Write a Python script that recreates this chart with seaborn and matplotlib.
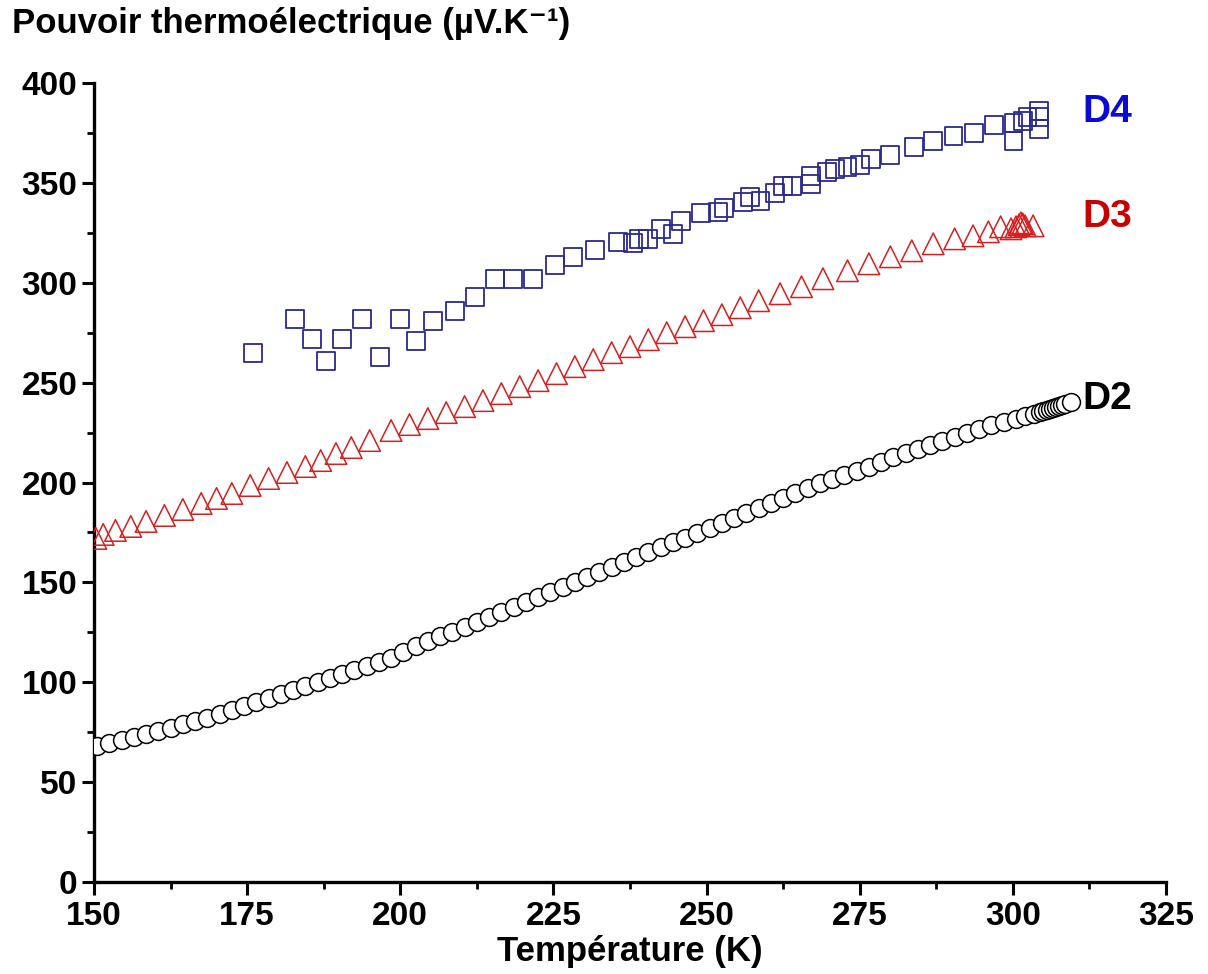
import matplotlib
matplotlib.use("Agg")
import matplotlib.pyplot as plt
import seaborn as sns
from matplotlib.ticker import MultipleLocator

# D2 - circles (black)
d2_temp = [150.5, 152.5, 154.5, 156.5, 158.5, 160.5, 162.5, 164.5, 166.5, 168.5,
           170.5, 172.5, 174.5, 176.5, 178.5, 180.5, 182.5, 184.5, 186.5, 188.5,
           190.5, 192.5, 194.5, 196.5, 198.5, 200.5, 202.5, 204.5, 206.5, 208.5,
           210.5, 212.5, 214.5, 216.5, 218.5, 220.5, 222.5, 224.5, 226.5, 228.5,
           230.5, 232.5, 234.5, 236.5, 238.5, 240.5, 242.5, 244.5, 246.5, 248.5,
           250.5, 252.5, 254.5, 256.5, 258.5, 260.5, 262.5, 264.5, 266.5, 268.5,
           270.5, 272.5, 274.5, 276.5, 278.5, 280.5, 282.5, 284.5, 286.5, 288.5,
           290.5, 292.5, 294.5, 296.5, 298.5, 300.5, 302.0, 303.5, 304.5, 305.0,
           305.5, 306.0, 306.5, 307.0, 307.5, 308.0, 308.5, 309.5]
d2_seebeck = [68, 69.5, 71, 72.5, 74, 75.5, 77, 79, 80.5, 82,
              84, 86, 88, 90, 92, 94, 96, 98, 100, 102,
              104, 106, 108, 110, 112, 115, 118, 120.5, 123, 125,
              127.5, 130, 132.5, 135, 137.5, 140, 142.5, 145, 147.5, 150,
              152.5, 155, 157.5, 160, 162.5, 165, 167.5, 170, 172, 174.5,
              177, 179.5, 182, 184.5, 187, 189.5, 192, 194.5, 197, 199.5,
              202, 204, 206, 208, 210.5, 213, 215, 217, 219, 221,
              223, 225, 227, 229, 230.5, 232, 233.5, 234.5, 235.5, 236,
              236.5, 237, 237.5, 238, 238.5, 239, 239.5, 240.5]

# D3 - triangles (red)
d3_temp = [150.3, 151.5, 153.5, 156, 158.5, 161.5, 164.5, 167.5, 170, 172.5,
           175.5, 178.5, 181.5, 184.5, 187, 189.5, 192, 195, 198.5, 201.5,
           204.5, 207.5, 210.5, 213.5, 216.5, 219.5, 222.5, 225.5, 228.5, 231.5,
           234.5, 237.5, 240.5, 243.5, 246.5, 249.5, 252.5, 255.5, 258.5, 262,
           265.5, 269, 273, 276.5, 280, 283.5, 287, 290.5, 293.5, 296,
           298, 299.7, 300.5, 301, 301.3, 301.6, 302, 303.3]
d3_seebeck = [172, 174, 176, 178, 180.5, 183.5, 186.5, 189.5, 192, 194.5,
              198.5, 202, 205, 208, 211, 214.5, 217.5, 221, 226, 229,
              232, 235, 238, 241, 244.5, 248, 251, 254.5, 258, 261.5,
              265, 268, 271.5, 275, 278, 281, 284, 287.5, 291, 294.5,
              298, 302, 306, 309.5, 313, 316, 319.5, 322, 323.5, 325.5,
              328, 327, 328, 329, 330, 329.5, 328.5, 328.5]

# D4 - squares (blue)
d4_temp = [176, 182.8, 185.6, 187.9, 190.5, 193.7, 196.7, 200, 202.6, 205.3,
           208.9, 212.2, 215.4, 218.4, 221.6, 225.2, 228.2, 231.8, 235.5, 238,
           239, 240.5, 242.6, 244.5, 245.8, 249.1, 251.9, 252.9, 256, 257.1,
           258.8, 261.2, 262.5, 264, 267, 267, 269.7, 271, 273, 275.1,
           276.8, 280, 283.8, 287, 290.3, 293.6, 296.9, 300.1, 300.1, 301.6,
           302.4, 304.2, 304.2, 304.2]
d4_seebeck = [265, 282, 272, 261, 272, 282, 263, 282, 271, 281,
              286, 293, 302, 302, 302, 309, 313, 316.5, 320.5, 320,
              322, 322, 327, 324.5, 331, 335, 335.5, 337.5, 340.5, 343,
              341, 345, 348.5, 348.5, 349.5, 353.5, 355.5, 357, 358, 359,
              362, 364, 368, 371, 373.5, 375, 379, 380, 371, 381,
              383, 386, 383, 377]

sns.set_style("ticks")
plt.rcParams["font.family"] = ["Liberation Sans", "DejaVu Sans"]
plt.rcParams["font.weight"] = "bold"
plt.rcParams["text.color"] = "black"
plt.rcParams["axes.labelcolor"] = "black"
plt.rcParams["axes.edgecolor"] = "black"
plt.rcParams["xtick.color"] = "black"
plt.rcParams["ytick.color"] = "black"

fig = plt.figure(figsize=(12.08, 9.74), dpi=100)
ax = fig.add_axes([94 / 1208, 92 / 974, 1072 / 1208, 799 / 974])

sns.scatterplot(x=d2_temp, y=d2_seebeck, marker="o", s=165, facecolor="white",
                edgecolor="black", linewidth=1.1, ax=ax, zorder=3)
sns.scatterplot(x=d3_temp, y=d3_seebeck, marker="^", s=240, facecolor="none",
                edgecolor="#d42020", linewidth=1.1, ax=ax, zorder=3)
sns.scatterplot(x=d4_temp, y=d4_seebeck, marker="s", s=165, facecolor="none",
                edgecolor="#2a2a8f", linewidth=1.3, ax=ax, zorder=3)

ax.text(311.3, 385.5, "D4", color="#0a0ad8", fontsize=28, fontweight="bold", va="center")
ax.text(311.3, 333, "D3", color="#c80000", fontsize=28, fontweight="bold", va="center")
ax.text(311.3, 242, "D2", color="black", fontsize=28, fontweight="bold", va="center")

ax.set_xlim(150, 325)
ax.set_ylim(0, 400)
ax.xaxis.set_major_locator(MultipleLocator(25))
ax.xaxis.set_minor_locator(MultipleLocator(12.5))
ax.yaxis.set_major_locator(MultipleLocator(50))
ax.yaxis.set_minor_locator(MultipleLocator(25))
ax.tick_params(which="major", direction="out", length=9, width=2.2, labelsize=24, pad=3)
ax.tick_params(axis="x", which="major", pad=5)
ax.tick_params(which="minor", direction="out", length=5, width=2.0)
for lab in ax.get_xticklabels() + ax.get_yticklabels():
    lab.set_fontweight("bold")

sns.despine(ax=ax)
ax.spines["left"].set_linewidth(2.4)
ax.spines["bottom"].set_linewidth(2.4)

ax.set_xlabel("Température (K)", fontsize=25, fontweight="bold", labelpad=2)
fig.text(12 / 1208, 1 - 33 / 974, "Pouvoir thermoélectrique (µV.K⁻¹)",
         fontsize=25, fontweight="bold", ha="left", va="baseline")

fig.savefig("out.png", dpi=100)
